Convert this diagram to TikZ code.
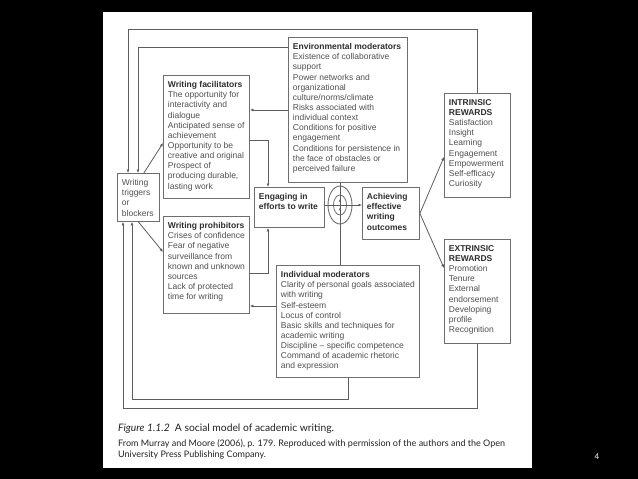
\documentclass[tikz,border=0pt]{standalone}
\usepackage{fontspec}
\setmainfont{Liberation Sans}
\newfontfamily\capfont{Lato}
\usetikzlibrary{arrows.meta,shapes.geometric,calc}
\definecolor{boxgray}{HTML}{6E6E6E}
\definecolor{txtgray}{HTML}{505050}
\definecolor{hdgray}{HTML}{2E2E2E}
\definecolor{capgray}{HTML}{222222}
\newcommand{\boxbody}[3]{\parbox[c][#2][t]{#1}{\raggedright #3}}
\newcommand{\hd}[1]{\textcolor{hdgray}{\textbf{#1}}}

\begin{document}
\begin{tikzpicture}[x=1pt,y=-1pt,
  box/.style={draw=boxgray, line width=0.9pt, anchor=north west, inner xsep=4.5pt, inner ysep=6pt, text=txtgray, font=\fontsize{8.5}{10.15}\selectfont},
  conn/.style={draw=boxgray!85!black, line width=0.8pt},
  arr/.style={conn, -{Latex[length=3.5pt,width=3pt]}},
  captxt/.style={anchor=base west, inner sep=0pt, text=capgray}]
\useasboundingbox (0,0) rectangle (638,479);
\fill[black] (0,0) rectangle (638,479);
\fill[white] (103,12) rectangle (532,468);

% boxes
\node[box] (trig) at (117,173) {\boxbody{33pt}{36pt}{Writing\\ triggers\\ or\\ blockers}};
\node[box] (fac) at (163,75) {\boxbody{77pt}{111pt}{\hd{Writing facilitators}\\ The opportunity for\\ interactivity and\\ dialogue\\ Anticipated sense of\\ achievement\\ Opportunity to be\\ creative and original\\ Prospect of\\ producing durable,\\ lasting work}};
\node[box] (proh) at (163,216) {\boxbody{77pt}{85pt}{\hd{Writing prohibitors}\\ Crises of confidence\\ Fear of negative\\ surveillance from\\ known and unknown\\ sources\\ Lack of protected\\ time for writing}};
\node[box] (env) at (288,37) {\boxbody{110pt}{133pt}{\hd{Environmental moderators}\\ Existence of collaborative\\ support\\ Power networks and\\ organizational\\ culture/norms/climate\\ Risks associated with\\ individual context\\ Conditions for positive\\ engagement\\ Conditions for persistence in\\ the face of obstacles or\\ perceived failure}};
\node[box] (eng) at (254,187) {\boxbody{61pt}{28pt}{\hd{Engaging in\\ efforts to write}}};
\node[box] (ach) at (362,187) {\boxbody{48pt}{40pt}{\hd{Achieving\\ effective\\ writing\\ outcomes}}};
\node[box] (ind) at (276,265) {\boxbody{134pt}{100pt}{\hd{Individual moderators}\\ Clarity of personal goals associated\\ with writing\\ Self-esteem\\ Locus of control\\ Basic skills and techniques for\\ academic writing\\ Discipline -- specific competence\\ Command of academic rhetoric\\ and expression}};
\node[box] (intr) at (444,93) {\boxbody{57pt}{92pt}{\hd{INTRINSIC\\ REWARDS}\\ Satisfaction\\ Insight\\ Learning\\ Engagement\\ Empowerment\\ Self-efficacy\\ Curiosity}};
\node[box] (extr) at (444,239) {\boxbody{57pt}{92pt}{\hd{EXTRINSIC\\ REWARDS}\\ Promotion\\ Tenure\\ External\\ endorsement\\ Developing\\ profile\\ Recognition}};
\node[draw=boxgray, line width=0.9pt, ellipse, minimum width=24pt, minimum height=38pt, inner sep=0pt] (sym) at (340,205) {};
\node[draw=boxgray, line width=0.8pt, ellipse, minimum width=13pt, minimum height=20pt, inner sep=0pt] (symin) at (sym.center) {};

% connectors
\draw[arr] (intr.north) -- ++(0,-64) -| ($(trig.north west)+(11,0)$);
\draw[arr] ($(env.north west)+(0,10)$) -| ($(trig.north west)+(21,0)$);
\draw[arr] (env.west) -- (env.west -| fac.east);
\draw[arr] ($(trig.north east)+(-16,0)$) -- ($(fac.north west)+(0,68)$);
\draw[arr] (trig.south) -- ($(proh.north west)+(0,36)$);
\draw[arr] ($(fac.north east)+(0,65)$) -| ($(eng.north west)+(14,0)$);
\draw[arr] ($(proh.north east)+(0,57)$) -| ($(eng.south west)+(14,0)$);
\coordinate (indout) at ($(ind.north west)+(0,41)$);
\draw[arr] (indout) -- (indout -| proh.east);
\draw[arr] (sym.center -| eng.east) -- (sym.center -| ach.west);
\draw[conn] (sym.center |- env.south) -- (sym.center |- ind.north);
\draw[conn, {Latex[length=2.5pt,width=2.5pt]}-{Latex[length=2.5pt,width=2.5pt]}] ($(sym.center)+(0,-6)$) -- ($(sym.center)+(0,6)$);
\draw[arr] (ach.east) -- ($(intr.north west)+(0,64)$);
\draw[arr] (ach.east) -- ($(extr.north west)+(0,29)$);
\draw[arr] (extr.south) -- ++(0,64) -| ($(trig.south west)+(6,0)$);
\draw[arr] (ind.south) -- ++(0,21) -| ($(trig.south west)+(15,0)$);

% caption
\node[captxt, font=\capfont\fontsize{10.3}{12}\selectfont] (cap) at (118,431) {\textit{Figure 1.1.2}\enspace A social model of academic writing.};
\node[captxt, font=\capfont\fontsize{9}{11}\selectfont] (src) at (118,446) {From Murray and Moore (2006), p. 179. Reproduced with permission of the authors and the Open};
\node[captxt, font=\capfont\fontsize{9}{11}\selectfont] (srcb) at (118,457) {University Press Publishing Company.};
\node[text=white, inner sep=0pt, font=\capfont\fontsize{8}{9}\selectfont] (pgnum) at (597,457) {4};
\end{tikzpicture}
\end{document}
